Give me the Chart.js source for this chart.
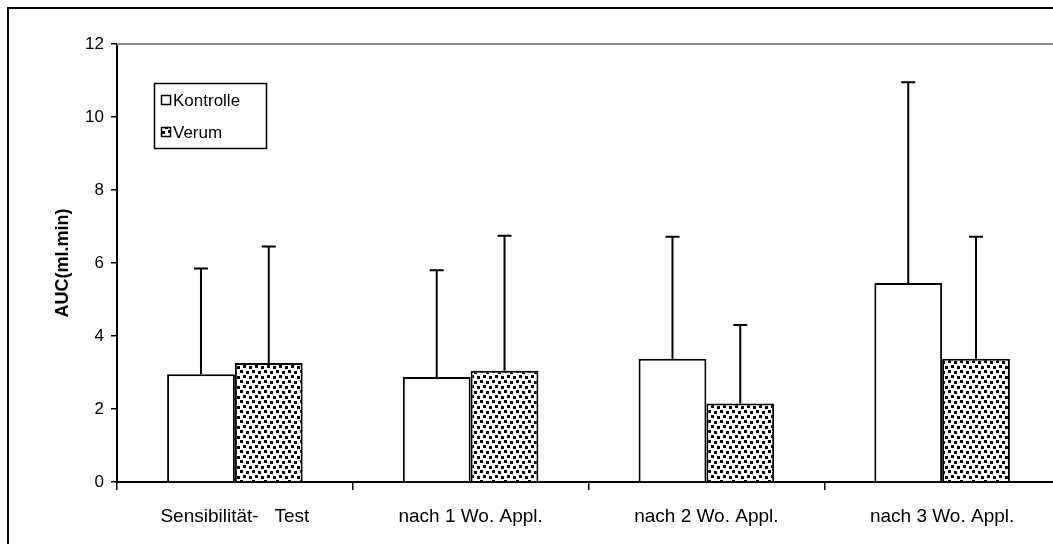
<!DOCTYPE html>
<html>
<head>
<meta charset="utf-8">
<script src="https://cdn.jsdelivr.net/npm/chart.js@4/dist/chart.umd.min.js"></script>
<style>
  html, body { margin: 0; padding: 0; background: #fff; overflow: hidden; }
  #wrap { width: 1053px; height: 544px; overflow: hidden; }
</style>
</head>
<body>
<div id="wrap"><canvas id="myChart" width="1062" height="544"></canvas></div>
<script>
// Datos: AUC media y desviación estándar por fase
const categorias = ['Sensibilität-   Test', 'nach 1 Wo. Appl.', 'nach 2 Wo. Appl.', 'nach 3 Wo. Appl.'];
const kontrolle = [2.95, 2.88, 3.38, 5.45];
const kontrolleSD = [2.90, 2.92, 3.34, 5.50];
const verum = [3.26, 3.05, 2.15, 3.38];
const verumSD = [3.19, 3.70, 2.15, 3.34];
const yTicks = [0, 2, 4, 6, 8, 10, 12];

const fuente = '"Liberation Sans", Arial, sans-serif';

// Trama de puntos para la serie Verum
function crearTrama() {
  const c = document.createElement('canvas');
  c.width = 12; c.height = 10;
  const g = c.getContext('2d');
  g.fillStyle = '#fff';
  g.fillRect(0, 0, 12, 10);
  g.fillStyle = '#000';
  g.fillRect(0, 0, 3, 3);
  g.fillRect(6, 1, 3, 3);
  g.fillRect(3, 5, 3, 3);
  g.fillRect(9, 6, 3, 3);
  return g.createPattern(c, 'repeat');
}
const trama = crearTrama();

// Marco, línea superior del área y leyenda interior
const marcoPlugin = {
  id: 'marco',
  beforeDraw(chart) {
    const ctx = chart.ctx;
    ctx.save();
    ctx.fillStyle = '#fff';
    ctx.fillRect(0, 0, chart.width, chart.height);
    ctx.strokeStyle = '#000';
    ctx.lineWidth = 2;
    ctx.strokeRect(8, 8, chart.width + 20, chart.height + 20);
    ctx.restore();
  },
  afterDraw(chart) {
    const ctx = chart.ctx;
    const a = chart.chartArea;
    ctx.save();
    ctx.strokeStyle = '#8c8c8c';
    ctx.lineWidth = 2;
    ctx.beginPath();
    ctx.moveTo(a.left, a.top);
    ctx.lineTo(chart.width, a.top);
    ctx.stroke();

    // leyenda
    ctx.strokeStyle = '#000';
    ctx.lineWidth = 1.5;
    ctx.strokeRect(154.5, 83.5, 112, 65);
    ctx.font = '17px ' + fuente;
    ctx.textBaseline = 'middle';
    chart.data.datasets.forEach((ds, i) => {
      const cy = 100 + i * 32;
      ctx.fillStyle = ds.backgroundColor;
      ctx.fillRect(161, cy - 5, 10, 10);
      ctx.lineWidth = 1.5;
      ctx.strokeRect(161.5, cy - 4.5, 9, 9);
      ctx.fillStyle = '#000';
      ctx.fillText(ds.label, 173, cy + 1);
    });
    ctx.restore();
  }
};

// Barras de error (solo hacia arriba)
const errorPlugin = {
  id: 'errores',
  afterDatasetsDraw(chart) {
    const ctx = chart.ctx;
    const y = chart.scales.y;
    ctx.save();
    ctx.strokeStyle = '#000';
    ctx.lineWidth = 2;
    chart.data.datasets.forEach((ds, i) => {
      const meta = chart.getDatasetMeta(i);
      meta.data.forEach((bar, j) => {
        const tope = y.getPixelForValue(ds.data[j] + ds.sd[j]);
        ctx.beginPath();
        ctx.moveTo(bar.x, bar.y);
        ctx.lineTo(bar.x, tope);
        ctx.moveTo(bar.x - 7, tope);
        ctx.lineTo(bar.x + 7, tope);
        ctx.stroke();
      });
    });
    ctx.restore();
  }
};

const ctx = document.getElementById('myChart').getContext('2d');
new Chart(ctx, {
  type: 'bar',
  data: {
    labels: categorias,
    datasets: [{
      label: 'Kontrolle',
      data: kontrolle,
      sd: kontrolleSD,
      backgroundColor: '#fff',
      borderColor: '#000',
      borderWidth: 2
    }, {
      label: 'Verum',
      data: verum,
      sd: verumSD,
      backgroundColor: trama,
      borderColor: '#000',
      borderWidth: 2
    }]
  },
  options: {
    responsive: false,
    animation: false,
    events: [],
    layout: { padding: { left: 0, right: 2, top: 44, bottom: 2 } },
    datasets: { bar: { categoryPercentage: 0.575, barPercentage: 1 } },
    plugins: {
      legend: { display: false },
      tooltip: { enabled: false }
    },
    scales: {
      x: {
        grid: { offset: true, drawOnChartArea: false, drawTicks: true, tickLength: 8, color: '#000', lineWidth: 1.5 },
        border: { color: '#000', width: 2 },
        ticks: { color: '#000', font: { family: fuente, size: 19 }, padding: 15, maxRotation: 0 },
        afterFit(s) { s.height = 60; }
      },
      y: {
        min: 0,
        max: 12,
        afterBuildTicks(s) { s.ticks = yTicks.map(v => ({ value: v })); },
        grid: { drawOnChartArea: false, drawTicks: true, tickLength: 6, color: '#000', lineWidth: 1.5 },
        border: { color: '#000', width: 2 },
        ticks: { color: '#000', font: { family: fuente, size: 17 }, padding: 7 },
        title: {
          display: true,
          text: 'AUC(ml.min)',
          color: '#000',
          font: { family: fuente, size: 18, weight: 'bold' },
          padding: { top: 52, bottom: 0 }
        },
        afterFit(s) { s.width = 117; }
      }
    }
  },
  plugins: [marcoPlugin, errorPlugin]
});
</script>
</body>
</html>
